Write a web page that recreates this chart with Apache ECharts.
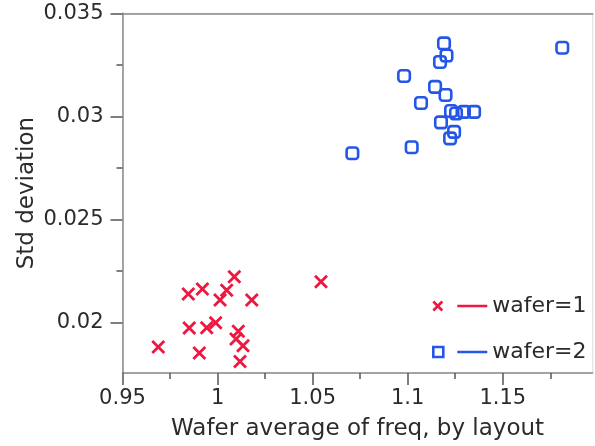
<!DOCTYPE html>
<html>
<head>
<meta charset="utf-8">
<script src="https://cdn.jsdelivr.net/npm/echarts@6/dist/echarts.min.js"></script>
<style>
  html, body { margin: 0; padding: 0; background: #fff; }
  #chart { width: 595px; height: 446px; }
</style>
</head>
<body>
<div id="chart"></div>
<script>
// Wafer 1: average frequency per layout vs. its standard deviation
const wafer1X = [0.9688, 0.9846, 0.9851, 0.9920, 0.9904, 0.9943, 0.9990, 1.0013,
                 1.0048, 1.0088, 1.0109, 1.0097, 1.0134, 1.0118, 1.0180, 1.0544];
const wafer1Y = [0.01881, 0.02138, 0.01973, 0.02162, 0.01852, 0.01975, 0.01999, 0.02109,
                 0.02156, 0.02222, 0.01957, 0.01920, 0.01887, 0.01811, 0.02109, 0.02198];

// Wafer 2
const wafer2X = [1.1191, 1.1204, 1.1170, 1.0981, 1.1144, 1.1199, 1.1070, 1.1228, 1.1254,
                 1.1296, 1.1349, 1.1175, 1.1244, 1.1223, 1.1021, 1.0709, 1.1813];
const wafer2Y = [0.03354, 0.03295, 0.03264, 0.03196, 0.03143, 0.03104, 0.03065, 0.03026, 0.03014,
                 0.03022, 0.03022, 0.02971, 0.02925, 0.02893, 0.02850, 0.02821, 0.03333];

// Axis ticks
const xTicks = [0.95, 1, 1.05, 1.1, 1.15];
const xMinorTicks = [0.975, 1.025, 1.075, 1.125, 1.175];
const yTicks = [0.02, 0.025, 0.03, 0.035];
const yMinorTicks = [0.0225, 0.0275, 0.0325];

const seriesNames = ['wafer=1', 'wafer=2'];
const xTitle = 'Wafer average of freq, by layout';
const yTitle = 'Std deviation';

const RED = '#ec1840';
const BLUE = '#2457e8';
const AXIS = '#8a8a8a';
const TICK = '#555';
const TEXT = '#2b2b2b';
const FONT = 'DejaVu Sans';

const X_MIN = 0.95, X_MAX = 1.1973;
const Y_MIN = 0.01755, Y_MAX = 0.035;

const zip = (xs, ys) => xs.map((x, i) => [x, ys[i]]);

const crossPath = 'path://M0,0L10,10M10,0L0,10';
const legendCross = 'path://M0,0.5L9,9.5M9,0.5L0,9.5M24,5L54,5';
const legendSquare = 'path://M0,0L10,0L10,10L0,10ZM24,5L54,5';

const chart = echarts.init(document.getElementById('chart'), null, { renderer: 'canvas' });

chart.setOption({
  animation: false,
  backgroundColor: '#fff',
  textStyle: { fontFamily: FONT },
  grid: {
    left: 122.5, top: 13.3, right: 2.3, bottom: 72.7,
    show: true, borderColor: '#dedede', borderWidth: 1, backgroundColor: 'transparent'
  },
  legend: {
    orient: 'vertical',
    left: 427, top: 290,
    itemWidth: 54, itemHeight: 11,
    itemGap: 24,
    selectedMode: false,
    textStyle: { fontFamily: FONT, fontSize: 22, color: TEXT },
    data: [
      { name: seriesNames[0], icon: legendCross,
        itemStyle: { color: 'transparent', borderColor: RED, borderWidth: 2.6, opacity: 1 } },
      { name: seriesNames[1], icon: legendSquare,
        itemStyle: { color: 'transparent', borderColor: BLUE, borderWidth: 2.6, opacity: 1 } }
    ]
  },
  xAxis: [
    {
      type: 'value', position: 'bottom', min: X_MIN, max: X_MAX,
      name: xTitle, nameLocation: 'middle', nameGap: 45, nameMoveOverlap: false,
      nameTextStyle: { fontFamily: FONT, fontSize: 23, color: TEXT },
      axisLine: { show: true, onZero: false, lineStyle: { color: AXIS, width: 1.5 } },
      axisTick: { show: true, customValues: xTicks, length: 12, lineStyle: { color: TICK, width: 1.5 } },
      axisLabel: { customValues: xTicks, margin: 15, fontFamily: FONT, fontSize: 21, color: TEXT },
      splitLine: { show: false }
    },
    {
      type: 'value', position: 'bottom', min: X_MIN, max: X_MAX,
      axisLine: { show: false },
      axisTick: { show: true, customValues: xMinorTicks, length: 6, lineStyle: { color: TICK, width: 1.5 } },
      axisLabel: { show: false },
      splitLine: { show: false }
    },
    {
      type: 'value', position: 'top', min: X_MIN, max: X_MAX,
      axisLine: { show: true, onZero: false, lineStyle: { color: AXIS, width: 1.5 } },
      axisTick: { show: false },
      axisLabel: { show: false },
      splitLine: { show: false }
    }
  ],
  yAxis: [
    {
      type: 'value', position: 'left', min: Y_MIN, max: Y_MAX,
      name: yTitle, nameLocation: 'middle', nameGap: 84, nameRotate: 90, nameMoveOverlap: false,
      nameTextStyle: { fontFamily: FONT, fontSize: 23, color: TEXT },
      axisLine: { show: true, onZero: false, lineStyle: { color: AXIS, width: 1.5 } },
      axisTick: { show: true, customValues: yTicks, length: 12, lineStyle: { color: TICK, width: 1.5 } },
      axisLabel: { customValues: yTicks, margin: 19, fontFamily: FONT, fontSize: 21, color: TEXT },
      splitLine: { show: false }
    },
    {
      type: 'value', position: 'left', min: Y_MIN, max: Y_MAX,
      axisLine: { show: false },
      axisTick: { show: true, customValues: yMinorTicks, length: 6, lineStyle: { color: TICK, width: 1.5 } },
      axisLabel: { show: false },
      splitLine: { show: false }
    }
  ],
  series: [
    {
      name: seriesNames[0], type: 'scatter', xAxisIndex: 0, yAxisIndex: 0,
      symbol: crossPath, symbolSize: 12,
      itemStyle: { color: 'transparent', borderColor: RED, borderWidth: 2.8, opacity: 1 },
      emphasis: { disabled: true },
      data: zip(wafer1X, wafer1Y)
    },
    {
      name: seriesNames[1], type: 'scatter', xAxisIndex: 0, yAxisIndex: 0,
      symbol: 'roundRect', symbolSize: 11.5,
      itemStyle: { color: 'transparent', borderColor: BLUE, borderWidth: 2.6, opacity: 1 },
      emphasis: { disabled: true },
      data: zip(wafer2X, wafer2Y)
    }
  ]
});
</script>
</body>
</html>
